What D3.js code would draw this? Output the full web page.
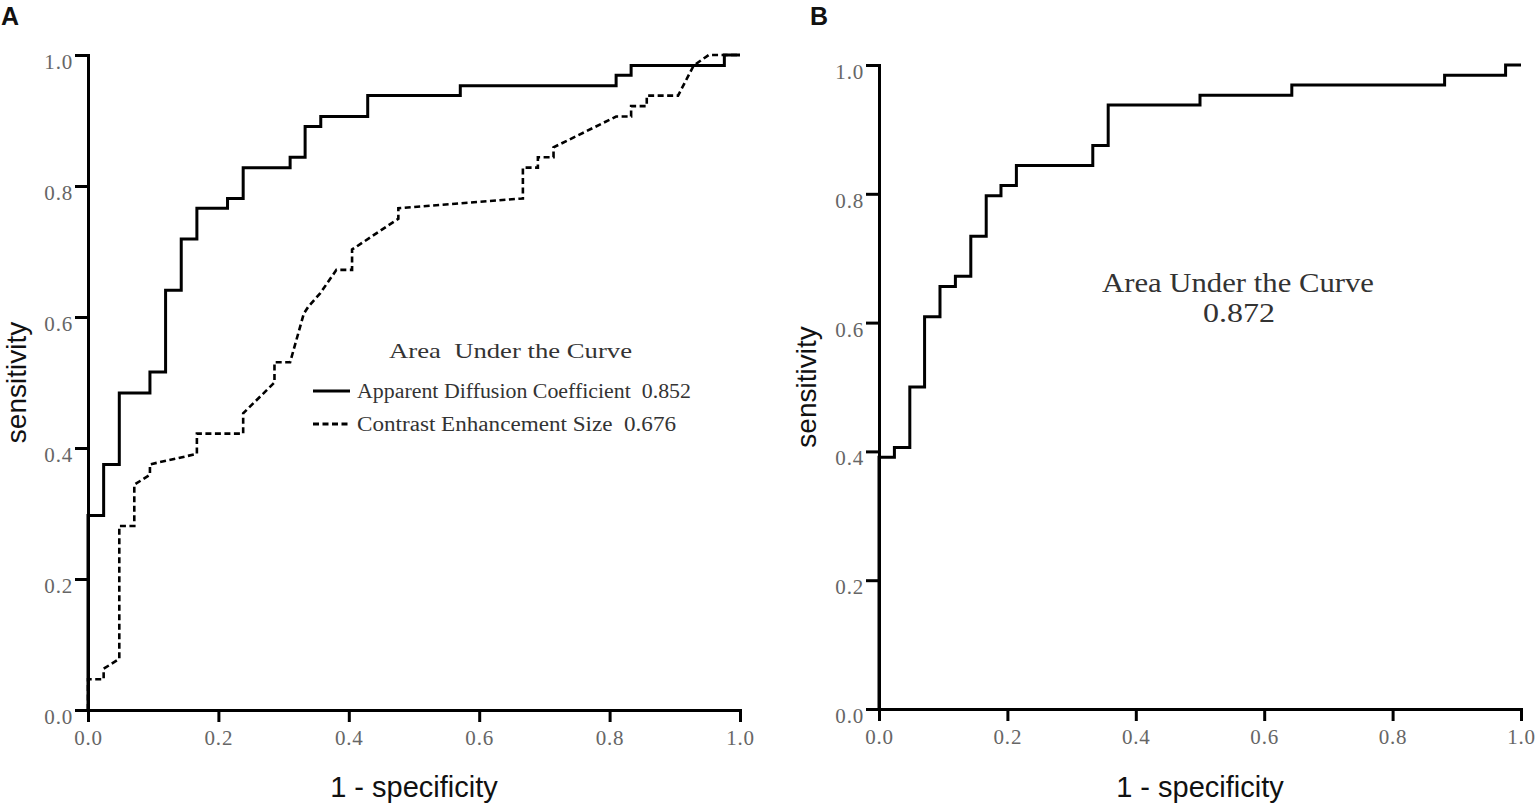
<!DOCTYPE html>
<html>
<head>
<meta charset="utf-8">
<script src="https://cdn.jsdelivr.net/npm/d3@7"></script>
<style>
  html, body { margin: 0; padding: 0; background: #fff; }
  svg { display: block; }
</style>
</head>
<body>
<svg id="chart" width="1536" height="805"></svg>
<script>
// ---- Data ----
const tickValues = [0, 0.2, 0.4, 0.6, 0.8, 1.0];

// Panel A: Apparent Diffusion Coefficient ROC vertices [1-specificity, sensitivity]
const adcRoc = [
  [0,0],[0,0.297],[0.024,0.297],[0.024,0.375],[0.048,0.375],[0.048,0.484],
  [0.095,0.484],[0.095,0.516],[0.119,0.516],[0.119,0.641],[0.143,0.641],[0.143,0.719],
  [0.167,0.719],[0.167,0.766],[0.214,0.766],[0.214,0.781],[0.238,0.781],[0.238,0.828],
  [0.310,0.828],[0.310,0.844],[0.333,0.844],[0.333,0.891],[0.357,0.891],[0.357,0.906],
  [0.429,0.906],[0.429,0.938],[0.571,0.938],[0.571,0.953],[0.810,0.953],[0.810,0.969],
  [0.833,0.969],[0.833,0.984],[0.976,0.984],[0.976,1],[1,1]
];

// Panel A: Contrast Enhancement Size ROC vertices
const cesRoc = [
  [0,0],[0,0.047],[0.024,0.047],[0.024,0.063],[0.048,0.078],[0.048,0.281],
  [0.071,0.281],[0.071,0.344],[0.095,0.359],[0.095,0.375],[0.167,0.391],[0.167,0.422],
  [0.238,0.422],[0.238,0.453],[0.286,0.5],[0.286,0.531],[0.310,0.531],[0.331,0.605],
  [0.338,0.616],[0.356,0.636],[0.381,0.672],[0.405,0.672],[0.405,0.703],[0.476,0.750],
  [0.476,0.766],[0.667,0.781],[0.667,0.828],[0.690,0.828],[0.690,0.844],[0.714,0.844],
  [0.714,0.859],[0.810,0.906],[0.833,0.906],[0.833,0.922],[0.857,0.922],[0.857,0.938],
  [0.905,0.938],[0.929,0.984],[0.952,1],[1,1]
];

// Panel B: ROC vertices
const bRoc = [
  [0,0],[0,0.391],[0.024,0.391],[0.024,0.406],[0.048,0.406],[0.048,0.5],
  [0.071,0.5],[0.071,0.609],[0.095,0.609],[0.095,0.656],[0.119,0.656],[0.119,0.672],
  [0.143,0.672],[0.143,0.734],[0.167,0.734],[0.167,0.797],[0.190,0.797],[0.190,0.813],
  [0.214,0.813],[0.214,0.844],[0.333,0.844],[0.333,0.875],[0.357,0.875],[0.357,0.938],
  [0.5,0.938],[0.5,0.953],[0.643,0.953],[0.643,0.969],[0.881,0.969],[0.881,0.984],
  [0.976,0.984],[0.976,1],[1,1]
];

const legendTitle = "Area  Under the Curve";
const legendLabels = ["Apparent Diffusion Coefficient  0.852", "Contrast Enhancement Size  0.676"];
const aucTitleB = "Area Under the Curve";
const aucValueB = "0.872";

// ---- Drawing ----
const svg = d3.select("#chart");
const serif = "'Liberation Serif', 'DejaVu Serif', serif";
const sans = "'Liberation Sans', Arial, sans-serif";

function panel(cfg) {
  const x = d3.scaleLinear().domain([0, 1]).range([cfg.x0, cfg.x1]);
  const y = d3.scaleLinear().domain([0, 1]).range([cfg.y0, cfg.y1]);
  const g = svg.append("g");
  const line = d3.line().x(d => x(d[0])).y(d => y(d[1]));

  cfg.series.forEach(s => {
    g.append("path").datum(s.data)
      .attr("d", line)
      .attr("fill", "none")
      .attr("stroke", "#000")
      .attr("stroke-width", s.dashed ? 2.6 : 3)
      .attr("stroke-dasharray", s.dashed ? "6,3.5" : null)
      .attr("stroke-linejoin", "miter");
  });

  const fmt = d3.format(".1f");
  const yAxis = g.append("g").attr("transform", `translate(${cfg.x0},0)`)
    .call(d3.axisLeft(y).tickValues(tickValues).tickFormat(fmt).tickSize(13).tickSizeOuter(0).tickPadding(2));
  const xAxis = g.append("g").attr("transform", `translate(0,${cfg.y0})`)
    .call(d3.axisBottom(x).tickValues(tickValues).tickFormat(fmt).tickSize(12).tickSizeOuter(0).tickPadding(8));

  [yAxis, xAxis].forEach(a => {
    a.select(".domain").attr("stroke", "#000").attr("stroke-width", 3).attr("stroke-linecap", "square");
    a.selectAll(".tick line").attr("stroke", "#000").attr("stroke-width", 3);
    a.selectAll(".tick text")
      .attr("font-family", serif).attr("font-size", 21).attr("fill", "#666")
      .attr("letter-spacing", 0.8);
  });
  yAxis.selectAll(".tick text").attr("dy", "0.64em");

  // axis titles
  g.append("text")
    .attr("transform", `translate(${cfg.yTitleX},${(cfg.y0 + cfg.y1) / 2}) rotate(-90)`)
    .attr("text-anchor", "middle")
    .attr("font-family", sans).attr("font-size", 28).attr("fill", "#111")
    .text("sensitivity");
  g.append("text")
    .attr("x", (cfg.x0 + cfg.x1) / 2).attr("y", 797)
    .attr("text-anchor", "middle")
    .attr("font-family", sans).attr("font-size", 29).attr("fill", "#111")
    .text("1 - specificity");

  // panel label
  g.append("text")
    .attr("x", cfg.labelX).attr("y", 25)
    .attr("font-family", sans).attr("font-size", 25).attr("font-weight", "bold")
    .attr("fill", "#111")
    .text(cfg.label);
  return { g, x, y };
}

const A = panel({
  x0: 88, x1: 740, y0: 710, y1: 55, yTitleX: 26, labelX: 1, label: "A",
  series: [{ data: adcRoc, dashed: false }, { data: cesRoc, dashed: true }]
});

const B = panel({
  x0: 879, x1: 1521, y0: 709, y1: 65, yTitleX: 816, labelX: 810, label: "B",
  series: [{ data: bRoc, dashed: false }]
});

// Legend panel A
A.g.append("text")
  .attr("x", 389).attr("y", 358)
  .attr("font-family", serif).attr("font-size", 22).attr("fill", "#333")
  .attr("textLength", 243).attr("lengthAdjust", "spacingAndGlyphs")
  .attr("xml:space", "preserve")
  .text(legendTitle);

const legendRows = [
  { y: 391, text: legendLabels[0], dashed: false, len: 334 },
  { y: 424, text: legendLabels[1], dashed: true, len: 319 }
];
legendRows.forEach(r => {
  A.g.append("line")
    .attr("x1", 313).attr("x2", 350).attr("y1", r.y).attr("y2", r.y)
    .attr("stroke", "#000").attr("stroke-width", 3)
    .attr("stroke-dasharray", r.dashed ? "6,3.5" : null);
  A.g.append("text")
    .attr("x", 357).attr("y", r.y + 7)
    .attr("font-family", serif).attr("font-size", 20).attr("fill", "#333")
    .attr("textLength", r.len).attr("lengthAdjust", "spacingAndGlyphs")
    .attr("xml:space", "preserve")
    .text(r.text);
});

// Annotation panel B
B.g.append("text")
  .attr("x", 1102).attr("y", 292)
  .attr("font-family", serif).attr("font-size", 28).attr("fill", "#333")
  .attr("textLength", 272).attr("lengthAdjust", "spacingAndGlyphs")
  .text(aucTitleB);
B.g.append("text")
  .attr("x", 1203).attr("y", 322)
  .attr("font-family", serif).attr("font-size", 28).attr("fill", "#333")
  .attr("textLength", 72).attr("lengthAdjust", "spacingAndGlyphs")
  .text(aucValueB);
</script>
</body>
</html>
